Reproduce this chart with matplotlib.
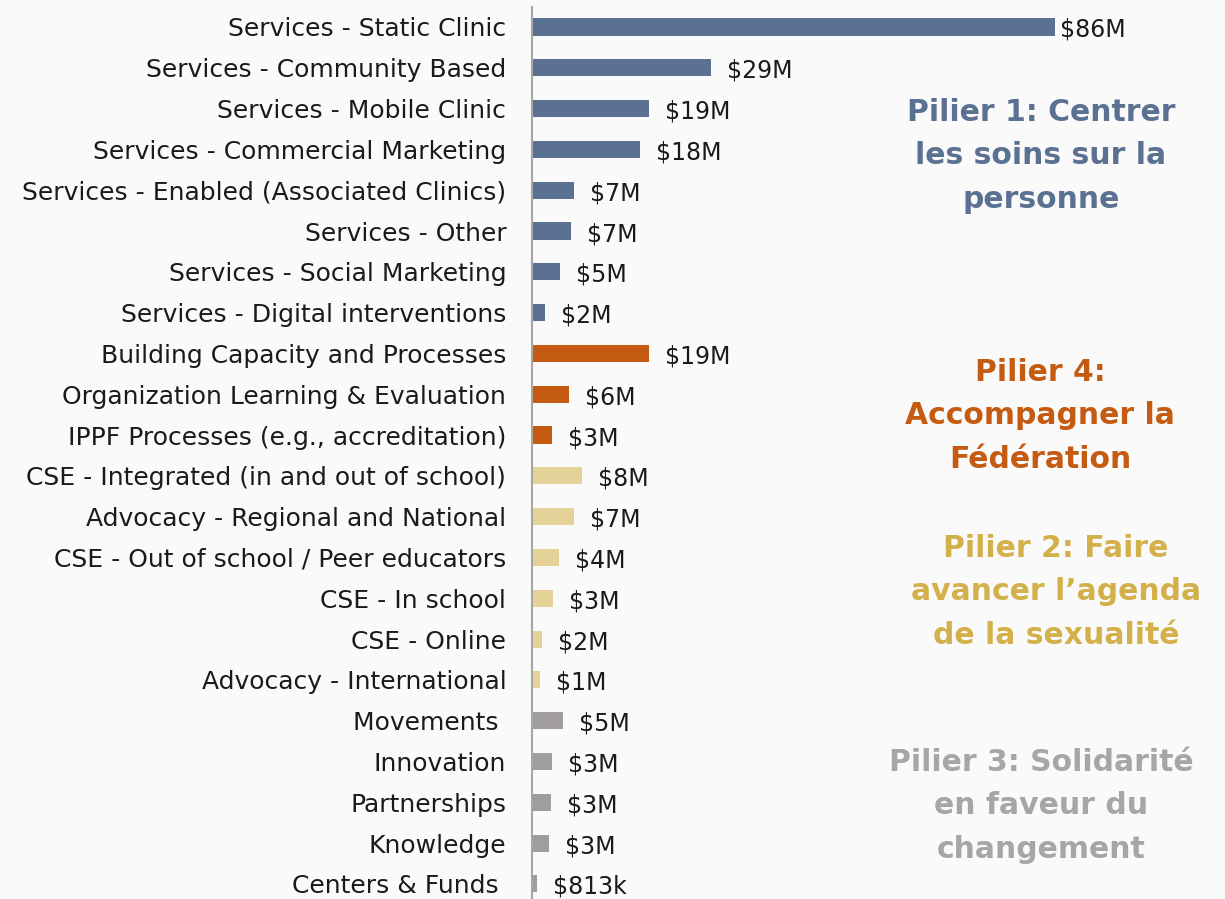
import matplotlib
matplotlib.use('Agg')
import matplotlib.pyplot as plt
from matplotlib.transforms import offset_copy

categories = ['Services - Static Clinic', 'Services - Community Based', 'Services - Mobile Clinic',
              'Services - Commercial Marketing', 'Services - Enabled (Associated Clinics)',
              'Services - Other', 'Services - Social Marketing', 'Services - Digital interventions',
              'Building Capacity and Processes', 'Organization Learning & Evaluation',
              'IPPF Processes (e.g., accreditation)', 'CSE - Integrated (in and out of school)',
              'Advocacy - Regional and National', 'CSE - Out of school / Peer educators',
              'CSE - In school', 'CSE - Online', 'Advocacy - International', 'Movements ',
              'Innovation', 'Partnerships', 'Knowledge', 'Centers & Funds ']
values = [86, 29.4, 19.2, 17.8, 6.9, 6.4, 4.6, 2.1,
          19.2, 6.1, 3.3,
          8.2, 6.9, 4.4, 3.5, 1.6, 1.3,
          5.1, 3.3, 3.1, 2.8, 0.813]
value_labels = ['$86M', '$29M', '$19M', '$18M', '$7M', '$7M', '$5M', '$2M',
                '$19M', '$6M', '$3M',
                '$8M', '$7M', '$4M', '$3M', '$2M', '$1M',
                '$5M', '$3M', '$3M', '$3M', '$813k']
pillar = [1] * 8 + [4] * 3 + [2] * 6 + [3] * 5

bar_colors = {1: '#5b7191', 4: '#c55a11', 2: '#e4d298', 3: '#a19d9d'}
text_colors = {1: '#5b7191', 4: '#c55a11', 2: '#d4b04a', 3: '#a6a6a6'}
pillar_titles = {1: 'Pilier 1: Centrer\nles soins sur la\npersonne',
                 4: 'Pilier 4:\nAccompagner la\nFédération',
                 2: 'Pilier 2: Faire\navancer l\u2019agenda\nde la sexualité',
                 3: 'Pilier 3: Solidarité\nen faveur du\nchangement'}

plt.rcParams['font.family'] = ['DejaVu Sans']

W, H = 1225, 899
fig = plt.figure(figsize=(W / 100, H / 100), dpi=100, facecolor='#fafafa')
ax = fig.add_axes([532 / W, 0, (W - 532) / W, (H - 7) / H])
ax.set_facecolor('#fafafa')

n = len(categories)
ypos = list(range(n))
ax.barh(ypos, values, height=0.42, color=[bar_colors[p] for p in pillar])
ax.set_ylim(20.37 + (n - 21), -0.49)
ax.set_xlim(0, (W - 532) / 6.08)

ax.set_yticks(ypos)
ax.set_yticklabels(categories, fontsize=18, color='#1a1a1a')
ax.tick_params(axis='y', length=0, pad=18.5)
ax.set_xticks([])
for s in ['top', 'right', 'bottom']:
    ax.spines[s].set_visible(False)
ax.spines['left'].set_color('#a6a6a6')
ax.spines['left'].set_linewidth(1.5)

for i, (v, lab) in enumerate(zip(values, value_labels)):
    dx = 5 if i == 0 else 16
    tr = offset_copy(ax.transData, fig=fig, x=dx * 0.72, y=-3 * 0.72, units='points')
    ax.text(v, i, lab, transform=tr, fontsize=17, color='#1a1a1a', va='center', ha='left')

# pillar titles, figure pixel coords (x center, y of middle line from top)
title_pos = {1: (1041, 156), 4: (1040, 416), 2: (1056, 592), 3: (1041, 806)}
for p, (x, y) in title_pos.items():
    fig.text(x / W, 1 - y / H, pillar_titles[p], ha='center', va='center',
             fontsize=21.5, fontweight='bold', color=text_colors[p], linespacing=1.62)

fig.savefig('out.png', dpi=100, facecolor=fig.get_facecolor())
